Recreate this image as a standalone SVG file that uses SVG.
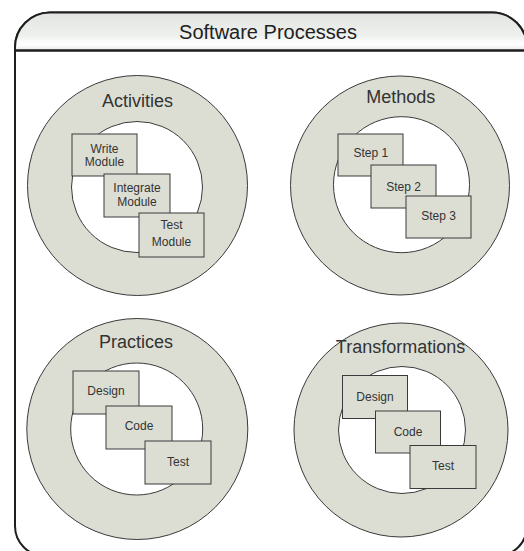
<svg xmlns="http://www.w3.org/2000/svg" width="524" height="551" viewBox="0 0 524 551">
  <defs>
    <linearGradient id="hdr" x1="0" y1="0" x2="0" y2="1">
      <stop offset="0" stop-color="#e2e4e2"/>
      <stop offset="0.6" stop-color="#eef0ee"/>
      <stop offset="0.78" stop-color="#fbfcfb"/>
      <stop offset="0.85" stop-color="#ffffff"/>
      <stop offset="1" stop-color="#e6e8ea"/>
    </linearGradient>
  </defs>
  <style>
    .frame { fill: #ffffff; stroke: #1e1e1e; stroke-width: 2; }
    .hline { stroke: #1e1e1e; stroke-width: 2; }
    .title { font-family: "Liberation Sans", Arial, sans-serif; font-size: 20px; fill: #222222; text-anchor: middle; }
    .ring { fill: #dcded4; stroke: #3a3a3a; stroke-width: 1; }
    .hole { fill: #ffffff; stroke: #3a3a3a; stroke-width: 1; }
    .box { fill: #dcded4; stroke: #3a3a3a; stroke-width: 1; }
    .lbl { font-family: "Liberation Sans", Arial, sans-serif; font-size: 18px; fill: #333333; text-anchor: middle; }
    .btx { font-family: "Liberation Sans", Arial, sans-serif; font-size: 12px; fill: #333333; text-anchor: middle; }
  </style>

  <g id="frame">
    <path class="frame" d="M15,47.5 A35,35 0 0 1 50,12.5 H492 A35,35 0 0 1 527,47.5 V526 A30,30 0 0 1 497,556 H45 A30,30 0 0 1 15,526 Z"/>
    <path d="M15,50.5 V47.5 A35,35 0 0 1 50,12.5 H492 A35,35 0 0 1 527,47.5 V50.5 Z" fill="url(#hdr)" stroke="#1e1e1e" stroke-width="2"/>
    <line class="hline" x1="15" y1="50.5" x2="527" y2="50.5"/>
    <text class="title" x="268" y="38.5">Software Processes</text>
  </g>

  <g id="activities">
    <circle class="ring" cx="137.5" cy="185.5" r="110"/>
    <circle class="hole" cx="137" cy="187" r="65.5"/>
    <text class="lbl" x="137.5" y="107">Activities</text>
    <g id="write-module">
      <rect class="box" x="72" y="134" width="65" height="42"/>
      <text class="btx" x="104.5" y="152.7">Write</text>
      <text class="btx" x="104.5" y="166">Module</text>
    </g>
    <g id="integrate-module">
      <rect class="box" x="104" y="174" width="66" height="43"/>
      <text class="btx" x="137" y="191.7">Integrate</text>
      <text class="btx" x="137" y="206">Module</text>
    </g>
    <g id="test-module">
      <rect class="box" x="139" y="213" width="65" height="44"/>
      <text class="btx" x="171.5" y="229.3">Test</text>
      <text class="btx" x="171.5" y="246">Module</text>
    </g>
  </g>

  <g id="methods">
    <circle class="ring" cx="400" cy="185.5" r="109.5"/>
    <circle class="hole" cx="401.5" cy="184.7" r="68"/>
    <text class="lbl" x="400.8" y="103.3">Methods</text>
    <g id="step-1">
      <rect class="box" x="338" y="134" width="65" height="42"/>
      <text class="btx" x="370.8" y="157.3">Step 1</text>
    </g>
    <g id="step-2">
      <rect class="box" x="371" y="165" width="65" height="43"/>
      <text class="btx" x="403.5" y="190.7">Step 2</text>
    </g>
    <g id="step-3">
      <rect class="box" x="406" y="196" width="65" height="42"/>
      <text class="btx" x="438.5" y="220">Step 3</text>
    </g>
  </g>

  <g id="practices">
    <circle class="ring" cx="137.3" cy="429" r="110.5"/>
    <circle class="hole" cx="136.7" cy="429" r="66"/>
    <text class="lbl" x="136" y="347.7">Practices</text>
    <g id="practices-design">
      <rect class="box" x="73" y="371" width="66" height="43"/>
      <text class="btx" x="106" y="395">Design</text>
    </g>
    <g id="practices-code">
      <rect class="box" x="106" y="406" width="66" height="43"/>
      <text class="btx" x="139" y="430">Code</text>
    </g>
    <g id="practices-test">
      <rect class="box" x="145" y="441" width="66" height="43"/>
      <text class="btx" x="178" y="466">Test</text>
    </g>
  </g>

  <g id="transformations">
    <circle class="ring" cx="401" cy="430" r="107"/>
    <circle class="hole" cx="402" cy="430" r="63.5"/>
    <text class="lbl" x="400.5" y="352.7">Transformations</text>
    <g id="transformations-design">
      <rect class="box" x="342.5" y="375.5" width="65" height="43"/>
      <text class="btx" x="375" y="401">Design</text>
    </g>
    <g id="transformations-code">
      <rect class="box" x="375.5" y="411" width="65" height="42"/>
      <text class="btx" x="408" y="436">Code</text>
    </g>
    <g id="transformations-test">
      <rect class="box" x="410" y="445.5" width="66" height="43"/>
      <text class="btx" x="443" y="470">Test</text>
    </g>
  </g>

  <g id="connectors"/>
</svg>
